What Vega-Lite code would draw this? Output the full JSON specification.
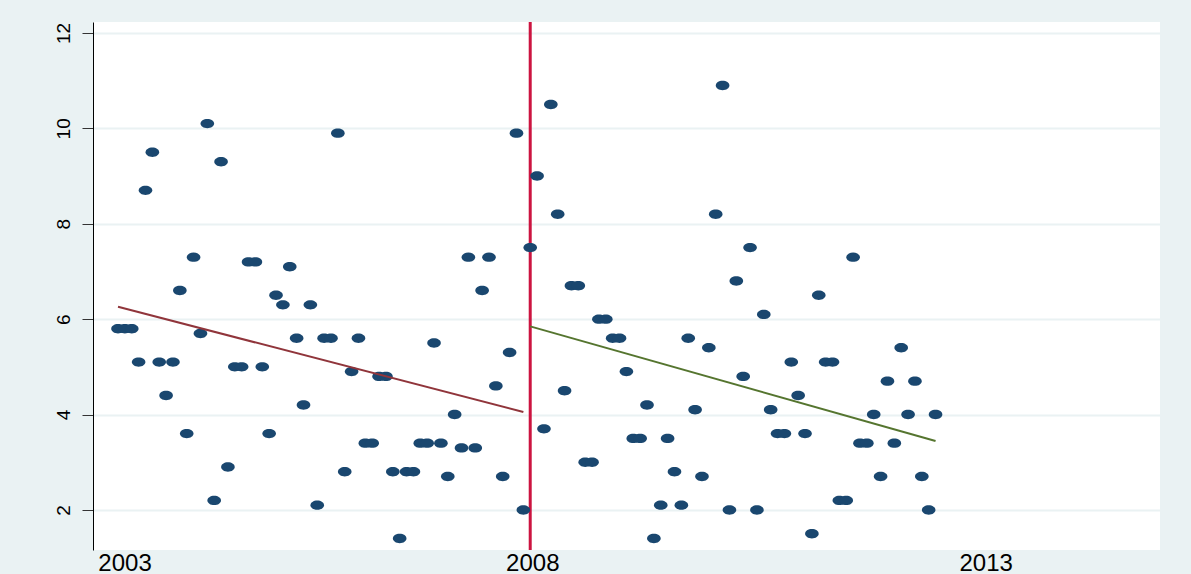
{
  "$schema": "https://vega.github.io/schema/vega-lite/v6.json",
  "width": 1067,
  "height": 528,
  "autosize": {"type": "none"},
  "padding": {"left": 93, "top": 22, "right": 31, "bottom": 24},
  "background": "#EAF2F3",
  "config": {
    "view": {"fill": "white", "stroke": null},
    "font": "Liberation Sans"
  },
  "datasets": {
    "obs": [
      {"m": 0, "v": 5.8, "p": "pre"}, {"m": 1, "v": 5.8, "p": "pre"}, {"m": 2, "v": 5.8, "p": "pre"}, {"m": 3, "v": 5.1, "p": "pre"},
      {"m": 4, "v": 8.7, "p": "pre"}, {"m": 5, "v": 9.5, "p": "pre"}, {"m": 6, "v": 5.1, "p": "pre"}, {"m": 7, "v": 4.4, "p": "pre"},
      {"m": 8, "v": 5.1, "p": "pre"}, {"m": 9, "v": 6.6, "p": "pre"}, {"m": 10, "v": 3.6, "p": "pre"}, {"m": 11, "v": 7.3, "p": "pre"},
      {"m": 12, "v": 5.7, "p": "pre"}, {"m": 13, "v": 10.1, "p": "pre"}, {"m": 14, "v": 2.2, "p": "pre"}, {"m": 15, "v": 9.3, "p": "pre"},
      {"m": 16, "v": 2.9, "p": "pre"}, {"m": 17, "v": 5.0, "p": "pre"}, {"m": 18, "v": 5.0, "p": "pre"}, {"m": 19, "v": 7.2, "p": "pre"},
      {"m": 20, "v": 7.2, "p": "pre"}, {"m": 21, "v": 5.0, "p": "pre"}, {"m": 22, "v": 3.6, "p": "pre"}, {"m": 23, "v": 6.5, "p": "pre"},
      {"m": 24, "v": 6.3, "p": "pre"}, {"m": 25, "v": 7.1, "p": "pre"}, {"m": 26, "v": 5.6, "p": "pre"}, {"m": 27, "v": 4.2, "p": "pre"},
      {"m": 28, "v": 6.3, "p": "pre"}, {"m": 29, "v": 2.1, "p": "pre"}, {"m": 30, "v": 5.6, "p": "pre"}, {"m": 31, "v": 5.6, "p": "pre"},
      {"m": 32, "v": 9.9, "p": "pre"}, {"m": 33, "v": 2.8, "p": "pre"}, {"m": 34, "v": 4.9, "p": "pre"}, {"m": 35, "v": 5.6, "p": "pre"},
      {"m": 36, "v": 3.4, "p": "pre"}, {"m": 37, "v": 3.4, "p": "pre"}, {"m": 38, "v": 4.8, "p": "pre"}, {"m": 39, "v": 4.8, "p": "pre"},
      {"m": 40, "v": 2.8, "p": "pre"}, {"m": 41, "v": 1.4, "p": "pre"}, {"m": 42, "v": 2.8, "p": "pre"}, {"m": 43, "v": 2.8, "p": "pre"},
      {"m": 44, "v": 3.4, "p": "pre"}, {"m": 45, "v": 3.4, "p": "pre"}, {"m": 46, "v": 5.5, "p": "pre"}, {"m": 47, "v": 3.4, "p": "pre"},
      {"m": 48, "v": 2.7, "p": "pre"}, {"m": 49, "v": 4.0, "p": "pre"}, {"m": 50, "v": 3.3, "p": "pre"}, {"m": 51, "v": 7.3, "p": "pre"},
      {"m": 52, "v": 3.3, "p": "pre"}, {"m": 53, "v": 6.6, "p": "pre"}, {"m": 54, "v": 7.3, "p": "pre"}, {"m": 55, "v": 4.6, "p": "pre"},
      {"m": 56, "v": 2.7, "p": "pre"}, {"m": 57, "v": 5.3, "p": "pre"}, {"m": 58, "v": 9.9, "p": "pre"}, {"m": 59, "v": 2.0, "p": "pre"},
      {"m": 60, "v": 7.5, "p": "post"}, {"m": 61, "v": 9.0, "p": "post"}, {"m": 62, "v": 3.7, "p": "post"}, {"m": 63, "v": 10.5, "p": "post"},
      {"m": 64, "v": 8.2, "p": "post"}, {"m": 65, "v": 4.5, "p": "post"}, {"m": 66, "v": 6.7, "p": "post"}, {"m": 67, "v": 6.7, "p": "post"},
      {"m": 68, "v": 3.0, "p": "post"}, {"m": 69, "v": 3.0, "p": "post"}, {"m": 70, "v": 6.0, "p": "post"}, {"m": 71, "v": 6.0, "p": "post"},
      {"m": 72, "v": 5.6, "p": "post"}, {"m": 73, "v": 5.6, "p": "post"}, {"m": 74, "v": 4.9, "p": "post"}, {"m": 75, "v": 3.5, "p": "post"},
      {"m": 76, "v": 3.5, "p": "post"}, {"m": 77, "v": 4.2, "p": "post"}, {"m": 78, "v": 1.4, "p": "post"}, {"m": 79, "v": 2.1, "p": "post"},
      {"m": 80, "v": 3.5, "p": "post"}, {"m": 81, "v": 2.8, "p": "post"}, {"m": 82, "v": 2.1, "p": "post"}, {"m": 83, "v": 5.6, "p": "post"},
      {"m": 84, "v": 4.1, "p": "post"}, {"m": 85, "v": 2.7, "p": "post"}, {"m": 86, "v": 5.4, "p": "post"}, {"m": 87, "v": 8.2, "p": "post"},
      {"m": 88, "v": 10.9, "p": "post"}, {"m": 89, "v": 2.0, "p": "post"}, {"m": 90, "v": 6.8, "p": "post"}, {"m": 91, "v": 4.8, "p": "post"},
      {"m": 92, "v": 7.5, "p": "post"}, {"m": 93, "v": 2.0, "p": "post"}, {"m": 94, "v": 6.1, "p": "post"}, {"m": 95, "v": 4.1, "p": "post"},
      {"m": 96, "v": 3.6, "p": "post"}, {"m": 97, "v": 3.6, "p": "post"}, {"m": 98, "v": 5.1, "p": "post"}, {"m": 99, "v": 4.4, "p": "post"},
      {"m": 100, "v": 3.6, "p": "post"}, {"m": 101, "v": 1.5, "p": "post"}, {"m": 102, "v": 6.5, "p": "post"}, {"m": 103, "v": 5.1, "p": "post"},
      {"m": 104, "v": 5.1, "p": "post"}, {"m": 105, "v": 2.2, "p": "post"}, {"m": 106, "v": 2.2, "p": "post"}, {"m": 107, "v": 7.3, "p": "post"},
      {"m": 108, "v": 3.4, "p": "post"}, {"m": 109, "v": 3.4, "p": "post"}, {"m": 110, "v": 4.0, "p": "post"}, {"m": 111, "v": 2.7, "p": "post"},
      {"m": 112, "v": 4.7, "p": "post"}, {"m": 113, "v": 3.4, "p": "post"}, {"m": 114, "v": 5.4, "p": "post"}, {"m": 115, "v": 4.0, "p": "post"},
      {"m": 116, "v": 4.7, "p": "post"}, {"m": 117, "v": 2.7, "p": "post"}, {"m": 118, "v": 2.0, "p": "post"}, {"m": 119, "v": 4.0, "p": "post"}
    ],
    "cut": [{"m": 60}]
  },
  "layer": [
    {
      "data": {"name": "cut"},
      "mark": {"type": "rule", "color": "#CC1440", "strokeWidth": 3},
      "encoding": {
        "x": {"field": "m", "type": "quantitative"}
      }
    },
    {
      "data": {"name": "obs"},
      "mark": {
        "type": "point",
        "filled": true,
        "shape": "M-1,0 A1,0.69 0 1,0 1,0 A1,0.69 0 1,0 -1,0 Z",
        "size": 185,
        "opacity": 1,
        "color": "#1A476F"
      },
      "encoding": {
        "x": {
          "field": "m",
          "type": "quantitative",
          "scale": {"domain": [-3.64, 151.67], "nice": false, "zero": false},
          "axis": {
            "title": null,
            "values": [0.95, 60.3, 126.3],
            "labelExpr": "datum.value < 30 ? '2003' : datum.value < 90 ? '2008' : '2013'",
            "ticks": false,
            "domain": false,
            "grid": false,
            "labelFontSize": 24,
            "labelColor": "#000000",
            "labelPadding": 1,
            "labelFlush": false,
            "labelOverlap": false
          }
        },
        "y": {
          "field": "v",
          "type": "quantitative",
          "scale": {"domain": [1.16, 12.23], "nice": false, "zero": false},
          "axis": {
            "title": null,
            "values": [2, 4, 6, 8, 10, 12],
            "labelAngle": 270,
            "labelAlign": "center",
            "labelBaseline": "bottom",
            "labelFontSize": 19,
            "labelColor": "#000000",
            "labelPadding": 9,
            "tickSize": 11,
            "tickColor": "#333333",
            "domainColor": "#000000",
            "domainWidth": 1,
            "gridColor": "#EAF2F3",
            "gridWidth": 2,
            "labelFlush": false,
            "labelOverlap": false
          }
        }
      }
    },
    {
      "data": {"name": "obs"},
      "transform": [{"regression": "v", "on": "m", "groupby": ["p"]}],
      "mark": {"type": "line", "strokeWidth": 2},
      "encoding": {
        "x": {"field": "m", "type": "quantitative"},
        "y": {"field": "v", "type": "quantitative"},
        "color": {
          "field": "p",
          "type": "nominal",
          "scale": {"domain": ["pre", "post"], "range": ["#90353B", "#55752F"]},
          "legend": null
        }
      }
    }
  ]
}
